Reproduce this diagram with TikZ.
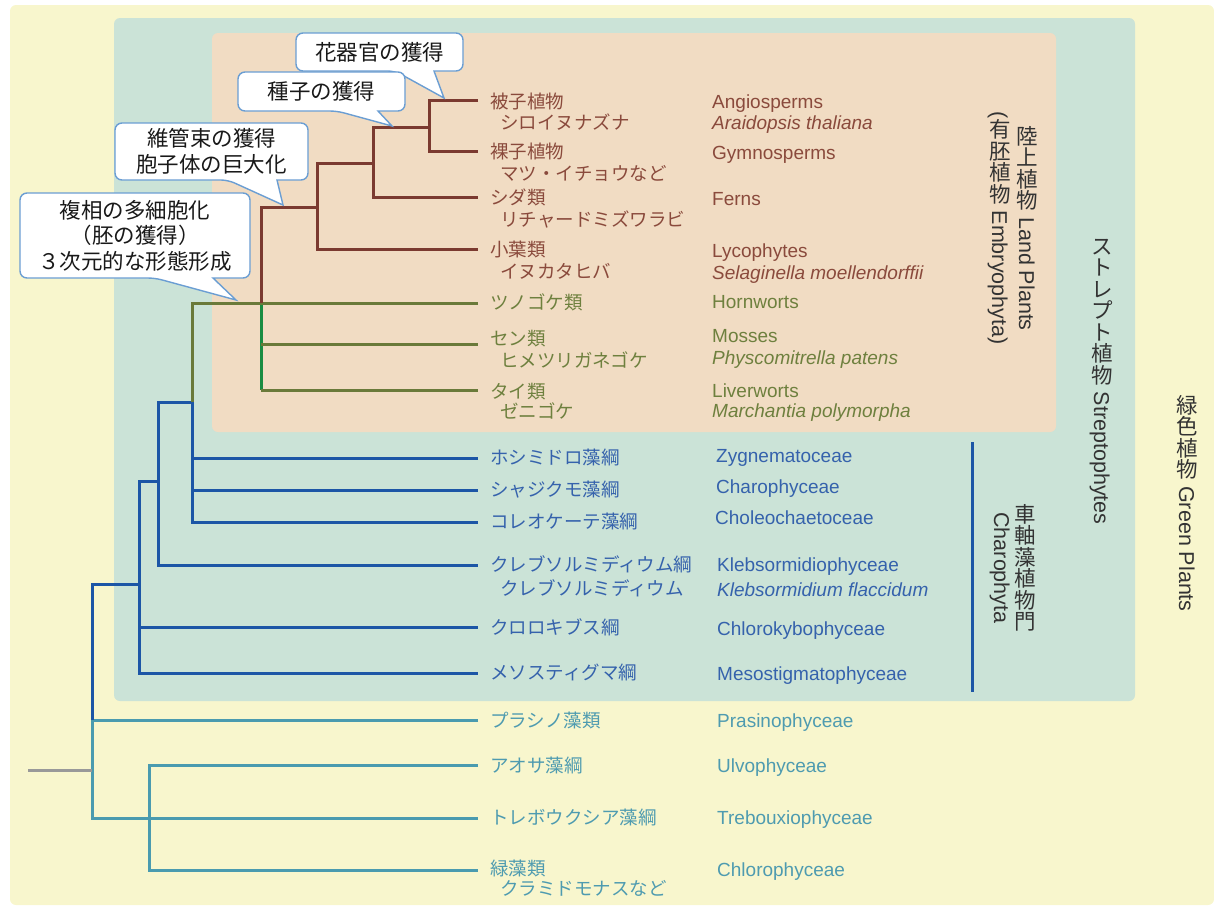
\documentclass[tikz,border=0pt]{standalone}
\usepackage{fontspec}
\setmainfont{Liberation Sans}
\newfontfamily\jp{Noto Sans CJK JP}
\usetikzlibrary{calc}

\definecolor{bgY}{HTML}{F8F6CD}
\definecolor{bgG}{HTML}{CBE3D7}
\definecolor{bgP}{HTML}{F1DCC3}
\definecolor{cBr}{HTML}{7B3A30}
\definecolor{tBr}{HTML}{8A4A3C}
\definecolor{cOl}{HTML}{6A7A3A}
\definecolor{tOl}{HTML}{6E803E}
\definecolor{cGr}{HTML}{1A8C42}
\definecolor{cBl}{HTML}{1C56A6}
\definecolor{tBl}{HTML}{3562AC}
\definecolor{cTe}{HTML}{4A9BAF}
\definecolor{tTe}{HTML}{4E9BB0}
\definecolor{cGy}{HTML}{999999}
\definecolor{cCo}{HTML}{6B9ED3}
\definecolor{tVl}{HTML}{333333}

\newcommand\tv[1]{\raisebox{-0.12em}{\rotatebox{90}{\rule[-0.12em]{0pt}{1em}{\jp #1}}}}

\tikzset{
  tree/.style={line width=3pt, line join=miter},
  jbase/.style={font=\jp\fontsize{18.5}{22}\selectfont, anchor=west, inner sep=0pt, text height=14pt, text depth=0pt},
  ebase/.style={font=\fontsize{19}{22}\selectfont, anchor=west, inner sep=0pt, text height=14pt, text depth=0pt},
  jl/.style={jbase, text=#1},
  el/.style={ebase, text=#1},
  eli/.style={ebase, text=#1, font=\fontsize{19}{22}\selectfont\itshape},
  vl/.style={font=\fontsize{21.5}{24}\selectfont, text=tVl, inner sep=0pt, text height=16pt, text depth=0pt, rotate=-90},
  cobox/.style={draw=cCo, line width=1.4pt, fill=white, rounded corners=7pt},
  cot/.style={font=\jp\fontsize{21.5}{25.5}\selectfont, align=center, inner sep=0pt, text=black!90}
}

\begin{document}
\begin{tikzpicture}[x=1pt, y=-1pt]
\useasboundingbox (0,0) rectangle (1214,906);
% backgrounds
\fill[bgY, rounded corners=6pt] (10,5) rectangle (1214,905);
\fill[bgG, rounded corners=6pt] (114,18) rectangle (1135,701);
\fill[bgP, rounded corners=6pt] (212,33) rectangle (1056,432);

% tips
\coordinate (A) at (478,100);
\coordinate (G) at (478,151);
\coordinate (F) at (478,197);
\coordinate (L) at (478,249);
\coordinate (Hn) at (478,303);
\coordinate (Ms) at (478,344);
\coordinate (Lv) at (478,390);
\coordinate (Zy) at (478,458);
\coordinate (Ch) at (478,490);
\coordinate (Co) at (478,522);
\coordinate (Kl) at (478,565);
\coordinate (Ck) at (478,627);
\coordinate (Me) at (478,673);
\coordinate (Pr) at (478,720);
\coordinate (Ul) at (478,765);
\coordinate (Tr) at (478,818);
\coordinate (Cl) at (478,870);
% internal nodes
\coordinate (nAG) at (429,127);
\coordinate (nSd) at (373,163);
\coordinate (nVs) at (317,207);
\coordinate (nEm) at (261,303);
\coordinate (nEb) at (261,390);
\coordinate (nSt) at (192,402);
\coordinate (nK) at (158,481);
\coordinate (nC) at (139,584);
\coordinate (nPr) at (92,720);
\coordinate (nGp) at (92,770);
\coordinate (nCl) at (149,818);
\coordinate (root) at (28,770);

% teal
\draw[tree, cTe] (Pr) -| (nGp) |- (Tr);
\draw[tree, cTe] (Ul) -| (nCl) |- (Cl);
\draw[tree, cGy] (root) -- (nGp);
% blue
\draw[tree, cBl] (nC) -| (nPr);
\draw[tree, cBl] (nK) -| (nC) |- (Me);
\draw[tree, cBl] (nC |- Ck) -- (Ck);
\draw[tree, cBl] (nSt) -| (nK) |- (Kl);
\draw[tree, cBl] (nSt) |- (Co);
\draw[tree, cBl] (nSt |- Zy) -- (Zy);
\draw[tree, cBl] (nSt |- Ch) -- (Ch);
% bryophytes
\draw[tree, cGr] (nEm) -- (nEb);
\draw[tree, cOl] (nEb) -- (Lv);
\draw[tree, cOl] (nEm |- Ms) -- (Ms);
\draw[tree, cOl] (Hn) -| (nSt);
% vascular
\draw[tree, cBr] (A) -| (nAG) |- (G);
\draw[tree, cBr] (nAG) -| (nSd) |- (F);
\draw[tree, cBr] (nSd) -| (nVs) |- (L);
\draw[tree, cBr] (nVs) -| (nEm);

% Charophyta bar
\coordinate (cbT) at (972,442);
\coordinate (cbB) at (972,692);
\draw[line width=3pt, cBl] (cbT) -- (cbB);

% callouts
\draw[cobox] (296,71) -- (395,71) [sharp corners] -- (444,98) -- (434,71) [rounded corners=7pt] -- (463,71) -- (463,33) -- (296,33) -- cycle;
\node[cot] (t1) at (379.5,52) {花器官の獲得};
\draw[cobox] (238,111) -- (337,111) [sharp corners] -- (392,126) -- (378,111) [rounded corners=7pt] -- (405,111) -- (405,72) -- (238,72) -- cycle;
\node[cot] (t2) at (321.5,91.5) {種子の獲得};
\draw[cobox] (115,180) -- (228,180) [sharp corners] -- (283,205) -- (277,180) [rounded corners=7pt] -- (308,180) -- (308,123) -- (115,123) -- cycle;
\node[cot] (t3) at (211.5,151.5) {維管束の獲得\\胞子体の巨大化};
\draw[cobox] (20,278) -- (155,278) [sharp corners] -- (236,300) -- (213,278) [rounded corners=7pt] -- (250,278) -- (250,193) -- (20,193) -- cycle;
\node[cot] (t4) at (135,235.5) {複相の多細胞化\\（胚の獲得）\\３次元的な形態形成};

% labels: land plants
\node[jl=tBr] (jA) at (490,101) {被子植物};
\node[jl=tBr] (jA2) at (500,122) {シロイヌナズナ};
\node[el=tBr] (eA) at (712,101) {Angiosperms};
\node[eli=tBr] (eA2) at (712,122) {Araidopsis thaliana};
\node[jl=tBr] (jG) at (490,151) {裸子植物};
\node[jl=tBr] (jG2) at (500,173) {マツ・イチョウなど};
\node[el=tBr] (eG) at (712,152) {Gymnosperms};
\node[jl=tBr] (jF) at (490,197) {シダ類};
\node[jl=tBr] (jF2) at (500,219) {リチャードミズワラビ};
\node[el=tBr] (eF) at (712,198) {Ferns};
\node[jl=tBr] (jL) at (490,249) {小葉類};
\node[jl=tBr] (jL2) at (500,271) {イヌカタヒバ};
\node[el=tBr] (eL) at (712,250) {Lycophytes};
\node[eli=tBr] (eL2) at (712,272) {Selaginella moellendorffii};
\node[jl=tOl] (jH) at (490,302) {ツノゴケ類};
\node[el=tOl] (eH) at (712,301) {Hornworts};
\node[jl=tOl] (jM) at (490,338) {セン類};
\node[jl=tOl] (jM2) at (500,360) {ヒメツリガネゴケ};
\node[el=tOl] (eM) at (712,335) {Mosses};
\node[eli=tOl] (eM2) at (712,357) {Physcomitrella patens};
\node[jl=tOl] (jV) at (490,391) {タイ類};
\node[jl=tOl] (jV2) at (500,411) {ゼニゴケ};
\node[el=tOl] (eV) at (712,390) {Liverworts};
\node[eli=tOl] (eV2) at (712,410) {Marchantia polymorpha};
% charophytes
\node[jl=tBl] (jZ) at (490,457) {ホシミドロ藻綱};
\node[el=tBl] (eZ) at (716,455) {Zygnematoceae};
\node[jl=tBl] (jC) at (490,489) {シャジクモ藻綱};
\node[el=tBl] (eC) at (716,486) {Charophyceae};
\node[jl=tBl] (jO) at (490,521) {コレオケーテ藻綱};
\node[el=tBl] (eO) at (715,517) {Choleochaetoceae};
\node[jl=tBl] (jK) at (490,564) {クレブソルミディウム綱};
\node[jl=tBl] (jK2) at (500,588) {クレブソルミディウム};
\node[el=tBl] (eK) at (717,564) {Klebsormidiophyceae};
\node[eli=tBl] (eK2) at (717,589) {Klebsormidium flaccidum};
\node[jl=tBl] (jB) at (490,627) {クロロキブス綱};
\node[el=tBl] (eB) at (717,628) {Chlorokybophyceae};
\node[jl=tBl] (jS) at (490,672) {メソスティグマ綱};
\node[el=tBl] (eS) at (717,673) {Mesostigmatophyceae};
% chlorophytes
\node[jl=tTe] (jP) at (490,720) {プラシノ藻類};
\node[el=tTe] (eP) at (717,720) {Prasinophyceae};
\node[jl=tTe] (jU) at (490,765) {アオサ藻綱};
\node[el=tTe] (eU) at (717,765) {Ulvophyceae};
\node[jl=tTe] (jT) at (490,817) {トレボウクシア藻綱};
\node[el=tTe] (eT) at (717,817) {Trebouxiophyceae};
\node[jl=tTe] (jR) at (490,868) {緑藻類};
\node[jl=tTe] (jR2) at (500,888) {クラミドモナスなど};
\node[el=tTe] (eR) at (717,869) {Chlorophyceae};

% vertical group labels
\node[vl] (vLand) at (1027,228) {\tv{陸}\tv{上}\tv{植}\tv{物} Land Plants};
\node[vl] (vEmb) at (1000,228) {(\tv{有}\tv{胚}\tv{植}\tv{物} Embryophyta)};
\node[vl] (vStr) at (1102,380) {\tv{ス}\tv{ト}\tv{レ}\tv{プ}\tv{ト}\tv{植}\tv{物} Streptophytes};
\node[vl] (vGrn) at (1187,503) {\tv{緑}\tv{色}\tv{植}\tv{物} Green Plants};
\node[vl] (vCha) at (1025,568) {\tv{車}\tv{軸}\tv{藻}\tv{植}\tv{物}\tv{門}};
\node[vl] (vCha2) at (1002,568) {Charophyta};
\end{tikzpicture}
\end{document}
